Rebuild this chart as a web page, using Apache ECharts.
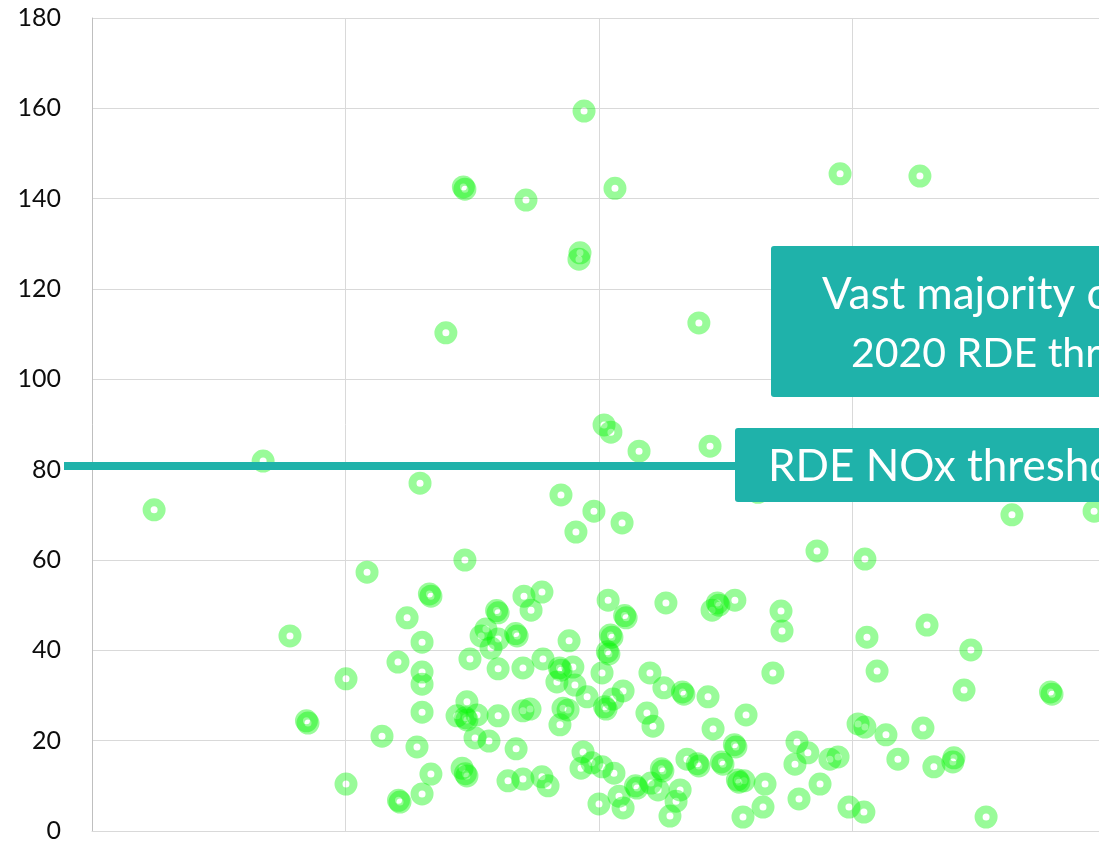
<!DOCTYPE html>
<html>
<head>
<meta charset="utf-8">
<script src="https://cdn.jsdelivr.net/npm/echarts@6/dist/echarts.min.js"></script>
<style>
html,body{margin:0;padding:0;background:#fff;}
#chart{width:1099px;height:843px;}
</style>
</head>
<body>
<div id="chart"></div>
<script>
// ---- data (x in gridline units, y = NOx value) ----
const xPos = [
  1.941,1.471,1.465,2.063,1.712,2.951,3.266,1.925,1.921,1.396,2.394,2.020,2.047,2.158,2.438,
  0.675,0.245,1.294,1.850,1.980,1.909,2.091,3.629,3.953,2.627,1.471,1.085,3.049,2.860,
  0.781,0.852,0.846,1.002,1.002,1.144,1.215,1.209,
  1.243,1.207,1.302,1.302,1.302,1.302,1.282,1.337,1.302,1.337,1.331,1.491,1.535,1.554,1.602,1.574,
  1.602,1.596,1.677,1.671,1.602,1.700,1.779,1.704,1.775,1.732,1.882,1.850,1.844,1.897,1.834,1.905,
  1.953,2.012,2.036,2.051,2.045,2.039,2.033,2.107,2.101,2.095,2.055,2.028,2.022,
  1.479,1.479,1.473,1.440,1.519,1.602,1.511,1.566,1.673,1.700,1.728,1.858,1.878,1.846,
  1.460,1.479,1.473,1.641,1.700,1.775,1.799,1.937,1.929,1.972,2.012,2.000,2.059,2.079,2.095,
  2.150,2.144,2.205,2.233,2.252,2.246,2.280,2.304,2.320,2.347,2.394,2.388,2.489,2.483,2.540,2.534,
  2.552,2.546,2.572,2.655,2.568,2.647,2.264,2.473,2.467,2.446,2.536,2.718,2.722,2.201,2.256,
  2.335,2.329,2.430,2.189,2.213,2.450,2.580,2.686,2.781,2.824,2.773,2.911,2.943,2.872,2.789,
  2.986,3.045,3.057,3.294,3.467,3.097,3.440,3.787,3.781,3.022,3.049,3.132,3.278,3.179,3.321,
  3.400,3.396,3.527
];
const noxValues = [
  159.4,142.1,142.6,142.3,139.7,145.5,145.0,128.0,126.6,110.3,112.5,89.9,88.3,84.1,85.2,
  81.9,71.1,77.0,74.4,70.8,66.2,68.2,70.0,70.8,75.0,60.0,57.3,60.2,62.0,
  43.2,23.9,24.4,33.7,10.4,21.0,6.4,6.8,
  47.2,37.4,41.8,35.2,32.5,26.3,18.6,12.6,8.2,52.0,52.5,38.1,43.2,44.7,42.5,40.5,
  48.3,48.8,43.2,43.7,35.9,36.1,38.1,52.0,52.9,48.9,42.1,35.6,36.1,36.3,33.0,32.3,
  29.7,35.0,51.1,42.9,43.4,39.2,39.7,47.2,47.7,31.0,29.2,27.0,27.5,
  28.6,24.6,25.1,25.5,25.7,25.5,20.6,19.9,18.2,26.6,27.0,27.2,26.8,23.5,
  13.9,12.2,12.7,11.1,11.5,12.0,10.0,17.5,13.9,15.1,14.2,6.0,12.8,7.7,5.1,
  9.5,10.0,10.6,9.1,13.3,13.8,3.3,6.6,9.1,15.9,14.4,14.9,14.8,15.3,18.6,19.1,
  10.8,11.3,11.1,10.4,3.1,5.3,50.5,50.0,50.5,48.9,51.1,48.7,44.3,35.0,31.7,
  30.3,30.8,29.7,26.1,23.2,22.6,25.7,35.0,19.7,17.3,14.8,15.9,16.4,10.4,7.1,
  5.3,4.2,42.9,45.6,40.1,35.4,31.2,30.3,30.8,23.7,23.0,21.3,22.8,15.9,14.2,
  16.2,15.3,3.1
];
const yTicks = [0, 20, 40, 60, 80, 100, 120, 140, 160, 180];
const thresholdValue = 80.8;
const thresholdLabel = 'RDE NOx threshold';
const noteLine1 = 'Vast majority of cars exceed the';
const noteLine2 = '2020 RDE threshold';

const points = xPos.map((x, i) => [x, noxValues[i]]);
const TEAL = '#1fb2aa';

const chart = echarts.init(document.getElementById('chart'), null, {renderer: 'canvas'});
chart.setOption({
  animation: false,
  backgroundColor: '#ffffff',
  grid: [
    {left: 92, right: -7, top: 18, bottom: 12, outerBoundsMode: 'none'},
    {left: 64, right: -7, top: 18, bottom: 12, outerBoundsMode: 'none'}
  ],
  xAxis: [
    {
      type: 'value', gridIndex: 0, min: 0, max: 4, interval: 1,
      axisLine: {show: true, lineStyle: {color: '#d9d9d9', width: 1}},
      axisTick: {show: false},
      axisLabel: {show: false},
      splitLine: {show: true, lineStyle: {color: '#d9d9d9', width: 1}}
    },
    {
      type: 'value', gridIndex: 1, min: 0, max: 1, show: false,
      splitLine: {show: false}
    }
  ],
  yAxis: [
    {
      type: 'value', gridIndex: 0, min: yTicks[0], max: yTicks[yTicks.length - 1], interval: 20,
      axisLine: {show: true, lineStyle: {color: '#bfbfbf', width: 1}},
      axisTick: {show: false},
      axisLabel: {
        show: true, margin: 31, color: '#0d0d0d',
        fontFamily: 'Lato', fontSize: 25
      },
      splitLine: {show: true, lineStyle: {color: '#d9d9d9', width: 1}}
    },
    {
      type: 'value', gridIndex: 1, min: yTicks[0], max: yTicks[yTicks.length - 1], show: false,
      splitLine: {show: false}
    }
  ],
  series: [
    {
      type: 'scatter',
      xAxisIndex: 0, yAxisIndex: 0,
      data: points,
      symbol: 'circle',
      symbolSize: 15,
      itemStyle: {color: 'rgba(0,0,0,0)', borderColor: 'rgba(0,244,0,0.5)', borderWidth: 8},
      emphasis: {disabled: true},
      z: 2
    },
    {
      type: 'line',
      xAxisIndex: 1, yAxisIndex: 1,
      data: [[0, thresholdValue], [1, thresholdValue]],
      symbol: 'none',
      lineStyle: {color: TEAL, width: 8},
      silent: true,
      z: 5
    }
  ],
  graphic: [
    {
      type: 'rect', z: 100,
      shape: {x: 771, y: 246, width: 420, height: 151, r: 3},
      style: {fill: TEAL}
    },
    {
      type: 'text', z: 101, x: 822, y: 295,
      style: {text: noteLine1, fill: '#ffffff', font: '44px Lato', textAlign: 'left', textVerticalAlign: 'middle'}
    },
    {
      type: 'text', z: 101, x: 851, y: 354,
      style: {text: noteLine2, fill: '#ffffff', font: '41px Lato', textAlign: 'left', textVerticalAlign: 'middle'}
    },
    {
      type: 'rect', z: 100,
      shape: {x: 735, y: 428, width: 420, height: 74, r: 3},
      style: {fill: TEAL}
    },
    {
      type: 'text', z: 101, x: 768, y: 467,
      style: {text: thresholdLabel, fill: '#ffffff', font: '44px Lato', textAlign: 'left', textVerticalAlign: 'middle'}
    }
  ]
});
</script>
</body>
</html>
